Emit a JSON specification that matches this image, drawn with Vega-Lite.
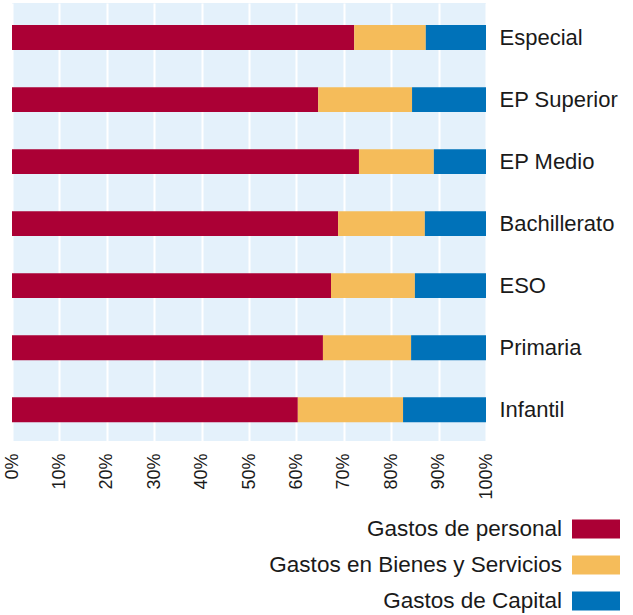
{
  "$schema": "https://vega.github.io/schema/vega-lite/v6.json",
  "autosize": {"type": "none"},
  "padding": {"left": 12, "top": 3, "right": 147, "bottom": 174},
  "width": 474,
  "height": 438,
  "background": "white",
  "data": {
    "values": [
      {"nivel": "Especial", "tipo": "Gastos de personal", "orden": 1, "valor": 72.2},
      {"nivel": "Especial", "tipo": "Gastos en Bienes y Servicios", "orden": 2, "valor": 15.1},
      {"nivel": "Especial", "tipo": "Gastos de Capital", "orden": 3, "valor": 12.7},
      {"nivel": "EP Superior", "tipo": "Gastos de personal", "orden": 1, "valor": 64.6},
      {"nivel": "EP Superior", "tipo": "Gastos en Bienes y Servicios", "orden": 2, "valor": 19.8},
      {"nivel": "EP Superior", "tipo": "Gastos de Capital", "orden": 3, "valor": 15.6},
      {"nivel": "EP Medio", "tipo": "Gastos de personal", "orden": 1, "valor": 73.2},
      {"nivel": "EP Medio", "tipo": "Gastos en Bienes y Servicios", "orden": 2, "valor": 15.8},
      {"nivel": "EP Medio", "tipo": "Gastos de Capital", "orden": 3, "valor": 11.0},
      {"nivel": "Bachillerato", "tipo": "Gastos de personal", "orden": 1, "valor": 68.8},
      {"nivel": "Bachillerato", "tipo": "Gastos en Bienes y Servicios", "orden": 2, "valor": 18.3},
      {"nivel": "Bachillerato", "tipo": "Gastos de Capital", "orden": 3, "valor": 12.9},
      {"nivel": "ESO", "tipo": "Gastos de personal", "orden": 1, "valor": 67.3},
      {"nivel": "ESO", "tipo": "Gastos en Bienes y Servicios", "orden": 2, "valor": 17.7},
      {"nivel": "ESO", "tipo": "Gastos de Capital", "orden": 3, "valor": 15.0},
      {"nivel": "Primaria", "tipo": "Gastos de personal", "orden": 1, "valor": 65.6},
      {"nivel": "Primaria", "tipo": "Gastos en Bienes y Servicios", "orden": 2, "valor": 18.6},
      {"nivel": "Primaria", "tipo": "Gastos de Capital", "orden": 3, "valor": 15.8},
      {"nivel": "Infantil", "tipo": "Gastos de personal", "orden": 1, "valor": 60.3},
      {"nivel": "Infantil", "tipo": "Gastos en Bienes y Servicios", "orden": 2, "valor": 22.2},
      {"nivel": "Infantil", "tipo": "Gastos de Capital", "orden": 3, "valor": 17.5}
    ]
  },
  "mark": {"type": "bar"},
  "encoding": {
    "y": {
      "field": "nivel",
      "type": "nominal",
      "sort": ["Especial", "EP Superior", "EP Medio", "Bachillerato", "ESO", "Primaria", "Infantil"],
      "scale": {"paddingInner": 0.6, "paddingOuter": 0.33, "align": 0.54},
      "axis": {
        "orient": "right",
        "title": null,
        "domain": false,
        "ticks": false,
        "grid": false,
        "labelPadding": 13,
        "labelFontSize": 22,
        "labelFont": "Liberation Sans",
        "labelColor": "#1a1a1a"
      }
    },
    "x": {
      "field": "valor",
      "type": "quantitative",
      "stack": "normalize",
      "scale": {"domain": [0, 1], "nice": false},
      "axis": {
        "title": null,
        "format": "%",
        "values": [0, 0.1, 0.2, 0.3, 0.4, 0.5, 0.6, 0.7, 0.8, 0.9, 1],
        "labelAngle": -90,
        "labelFontSize": 18,
        "labelFont": "Liberation Sans",
        "labelColor": "#1a1a1a",
        "labelPadding": 12,
        "labelOverlap": false,
        "labelFlush": false,
        "domain": false,
        "ticks": false,
        "grid": true,
        "gridColor": "white",
        "gridWidth": 2,
        "gridOpacity": 1
      }
    },
    "color": {
      "field": "tipo",
      "type": "nominal",
      "sort": ["Gastos de personal", "Gastos en Bienes y Servicios", "Gastos de Capital"],
      "scale": {
        "domain": ["Gastos de personal", "Gastos en Bienes y Servicios", "Gastos de Capital"],
        "range": ["#ab0035", "#f5bc5a", "#0072b9"]
      },
      "legend": {
        "title": null,
        "orient": "none",
        "legendX": 560,
        "legendY": 502,
        "direction": "vertical",
        "padding": 0,
        "symbolType": "M-1,-0.4H1V0.4H-1Z",
        "symbolSize": 2304,
        "symbolStrokeWidth": 0,
        "symbolOpacity": 1,
        "labelAlign": "right",
        "labelOffset": -58,
        "labelFontSize": 22.5,
        "labelFont": "Liberation Sans",
        "labelColor": "#1a1a1a",
        "labelLimit": 400,
        "rowPadding": 0
      }
    },
    "order": {"field": "orden", "type": "quantitative"}
  },
  "config": {
    "view": {"fill": "#e4f1fb", "stroke": null}
  }
}
